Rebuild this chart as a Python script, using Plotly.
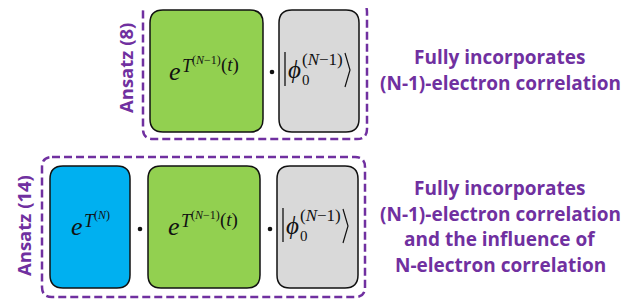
import plotly.graph_objects as go

W, H = 641, 302
OFF = 8  # page body margin in the viewer
PURPLE = "#7030A0"

# Diagram content
ansatz_labels = ["Ansatz (8)", "Ansatz (14)"]
ansatz_label_pos = [(125, 68), (23, 226)]
group_frames = [(143, 2, 367, 139), (42, 157, 365, 297)]
box_colors = {"blue": "#00B0F0", "green": "#92D050", "gray": "#D9D9D9"}
boxes = [
    ("green", 150, 10, 263, 132),
    ("gray", 279, 10, 359, 132),
    ("blue", 50, 166, 130, 288),
    ("green", 148, 166, 260, 288),
    ("gray", 277, 166, 358, 288),
]
dots = [(272, 72), (140, 229), (270, 229)]
desc_top = ["Fully incorporates", "(N-1)-electron correlation"]
desc_bottom = ["Fully incorporates", "(N-1)-electron correlation",
               "and the influence of", "N-electron correlation"]


def rrect(x0, y0, x1, y1, r):
    return (f"M {x0+r},{y0} L {x1-r},{y0} Q {x1},{y0} {x1},{y0+r} "
            f"L {x1},{y1-r} Q {x1},{y1} {x1-r},{y1} L {x0+r},{y1} "
            f"Q {x0},{y1} {x0},{y1-r} L {x0},{y0+r} Q {x0},{y0} {x0+r},{y0} Z")


fig = go.Figure()
shapes = []
annotations = []

for (x0, y0, x1, y1) in group_frames:
    shapes.append(dict(type="path", path=rrect(x0, y0, x1, y1, 10), xref="x", yref="y",
                       line=dict(color=PURPLE, width=2.5, dash="8px,4px"), fillcolor="rgba(0,0,0,0)"))

for (c, x0, y0, x1, y1) in boxes:
    shapes.append(dict(type="path", path=rrect(x0, y0, x1, y1, 13), xref="x", yref="y",
                       line=dict(color="#111111", width=1.5), fillcolor=box_colors[c]))

for (x, y) in dots:
    shapes.append(dict(type="circle", xref="x", yref="y", x0=x-2.3, x1=x+2.3, y0=y-2.3, y1=y+2.3,
                       fillcolor="#111111", line=dict(width=0)))

SERIF = "Liberation Serif"


def ann(x, y, text, size, xanchor="center", font=SERIF, color="#111111", angle=0, glyph=0.0):
    # y is desired visual centre of glyphs; glyph = offset of glyph centre below line middle (em)
    if angle == 0:
        yy = y - glyph * size
        xx = x
    else:
        yy = y
        xx = x - glyph * size
    annotations.append(dict(x=xx, y=yy, xref="x", yref="y", text=text, showarrow=False,
                            xanchor=xanchor, yanchor="middle", textangle=angle,
                            borderpad=0,
                            font=dict(family=font, size=size, color=color)))


def exp_T(xl, yc, inner="(<i>N</i>−1)", with_t=True):
    ann(xl, yc, "<i>e</i>", 26, xanchor="left", glyph=0.11)
    ann(xl + 13, yc - 8, "<i>T</i>", 18, xanchor="left")
    ann(xl + 23, yc - 13, inner, 12, xanchor="left", glyph=0.08)
    if with_t:
        ann(xl + 52, yc - 7, "(<i>t</i>)", 19, xanchor="left", glyph=0.08)


def ket(xl, yc):
    # xl: x of the bar, yc: vertical centre of the ket
    shapes.append(dict(type="line", xref="x", yref="y", x0=xl, x1=xl, y0=yc-18, y1=yc+16,
                       line=dict(color="#111111", width=1.3)))
    ann(xl + 2, yc + 2, "<i>ϕ</i>", 25, xanchor="left", glyph=0.10)
    ann(xl + 15.5, yc + 10, "0", 15, xanchor="left")
    ann(xl + 15.5, yc - 9, "(<i>N</i>−1)", 17, xanchor="left", glyph=0.08)
    xr = xl + 60
    shapes.append(dict(type="path", xref="x", yref="y",
                       path=f"M {xr},{yc-17} L {xr+5},{yc} L {xr},{yc+17}",
                       line=dict(color="#111111", width=1.2)))


exp_T(168, 74)
ket(285, 70)
exp_T(70, 229, inner="(<i>N</i>)", with_t=False)
exp_T(167, 229)
ket(283, 226)

for lab, (x, y) in zip(ansatz_labels, ansatz_label_pos):
    ann(x, y, f"<b>{lab}</b>", 18.5, font="Open Sans", color=PURPLE, angle=-90)

for i, t in enumerate(desc_top):
    ann(500, 57 + 25.5 * i, f"<b>{t}</b>", 19, font="Open Sans", color=PURPLE)
for i, t in enumerate(desc_bottom):
    ann(500, 188 + 25.7 * i, f"<b>{t}</b>", 19, font="Open Sans", color=PURPLE)

fig.update_layout(
    width=W - OFF, height=H - OFF, margin=dict(l=0, r=0, t=0, b=0),
    paper_bgcolor="white", plot_bgcolor="white",
    xaxis=dict(range=[OFF, W], visible=False, fixedrange=True),
    yaxis=dict(range=[H, OFF], visible=False, fixedrange=True),
    shapes=shapes, annotations=annotations, showlegend=False,
)
fig.write_html("out.html")
